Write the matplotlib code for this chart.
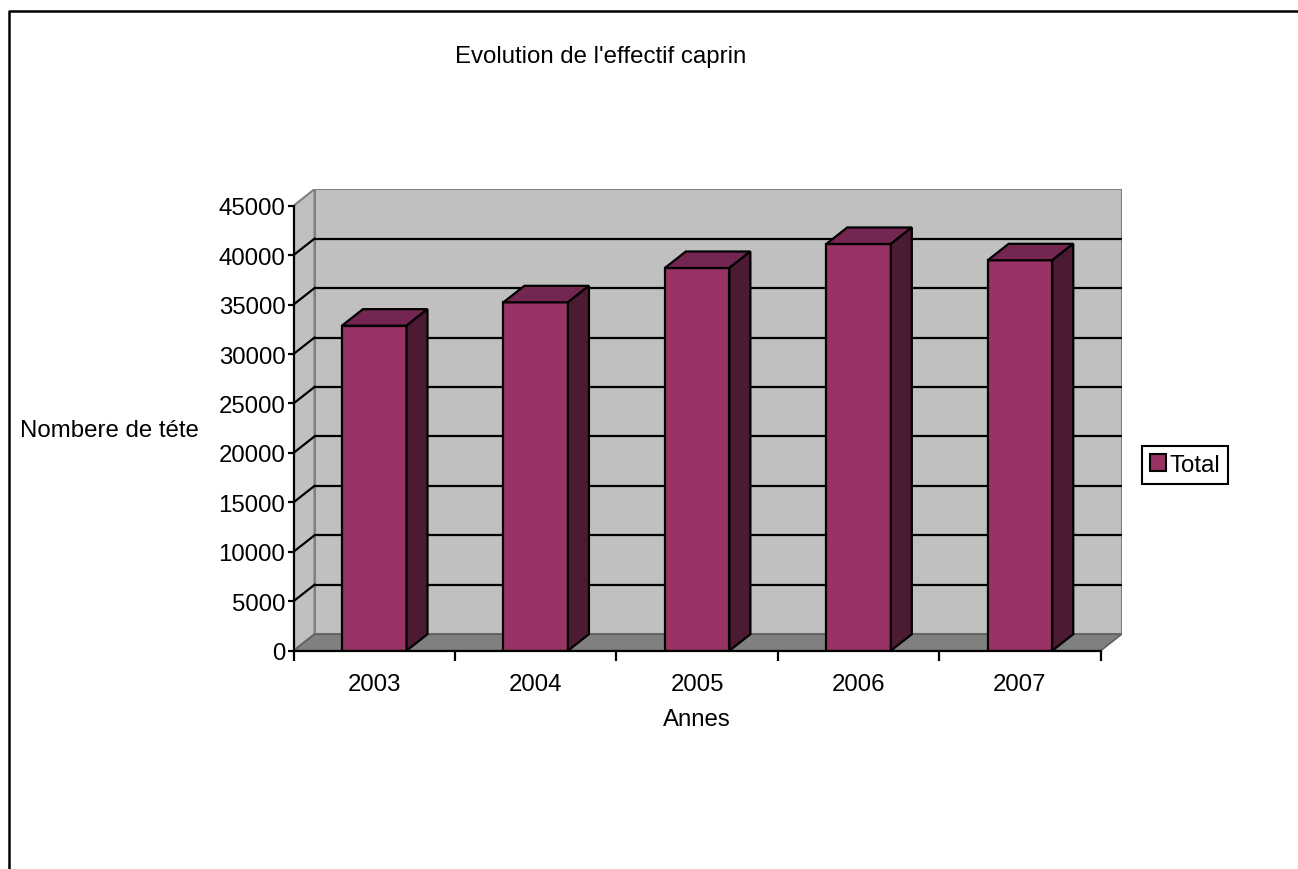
import matplotlib
matplotlib.use("Agg")
import matplotlib.pyplot as plt
from matplotlib.patches import Polygon, Patch
from matplotlib.lines import Line2D

plt.rcParams["font.family"] = ["Liberation Sans", "DejaVu Sans"]

# data
years = ["2003", "2004", "2005", "2006", "2007"]
total = [32870, 35230, 38700, 41130, 39480]
y_ticks = list(range(0, 45001, 5000))

FRONT = "#993366"
TOP = "#732650"
SIDE = "#4d1a33"
WALL = "#c0c0c0"
FLOOR = "#808080"
FS = 17.3

# layout in pixels of the 1298x870 canvas
W, H = 1298, 870
AX_L, FRONT_R, AX_B, Y_TOP_FRONT = 293.5, 1100.7, 651.7, 206.7
DEPTH_X_PX, DEPTH_Y_PX = 21.0, 16.5
YMAX = 45000

cat_px = (FRONT_R - AX_L) / len(years)
ppu = (AX_B - Y_TOP_FRONT) / YMAX
DX = DEPTH_X_PX / cat_px
DY = DEPTH_Y_PX / ppu
ax_r = AX_L + (len(years) + DX) * cat_px
ax_t = AX_B - (YMAX + DY) * ppu

fig = plt.figure(figsize=(W / 100, H / 100), dpi=100)
ax = fig.add_axes([AX_L / W, 1 - AX_B / H, (ax_r - AX_L) / W, (AX_B - ax_t) / H])
ax.set_xlim(-0.5, len(years) - 0.5 + DX)
ax.set_ylim(0, YMAX + DY)
ax.patch.set_visible(False)

x0, x1 = -0.5, len(years) - 0.5
# walls and floor
ax.add_patch(Polygon([(x0 + DX, DY), (x1 + DX, DY), (x1 + DX, YMAX + DY), (x0 + DX, YMAX + DY)],
                     closed=True, fc=WALL, ec="#808080", lw=1.5, zorder=0))
ax.add_patch(Polygon([(x0, 0), (x0 + DX, DY), (x0 + DX, YMAX + DY), (x0, YMAX)],
                     closed=True, fc=WALL, ec="#808080", lw=1.5, zorder=0))
ax.add_patch(Polygon([(x0, 0), (x1, 0), (x1 + DX, DY), (x0 + DX, DY)],
                     closed=True, fc=FLOOR, ec="#606060", lw=1.2, zorder=0.5))
for v in y_ticks[1:-1]:
    ax.plot([x0 + DX, x1 + DX], [v + DY, v + DY], color="black", lw=1.6, zorder=0.6)
    ax.plot([x0, x0 + DX], [v, v + DY], color="black", lw=1.6, zorder=0.6)

# 3d bars: front face, then top and side
xs = list(range(len(years)))
bw = 0.40
ax.bar(xs, total, width=bw, color=FRONT, edgecolor="black", lw=1.6, zorder=3)
for xi, v in zip(xs, total):
    l, r = xi - bw / 2, xi + bw / 2
    ax.add_patch(Polygon([(l, v), (r, v), (r + DX, v + DY), (l + DX, v + DY)],
                         closed=True, fc=TOP, ec="black", lw=1.6, zorder=3))
    ax.add_patch(Polygon([(r, 0), (r + DX, DY), (r + DX, v + DY), (r, v)],
                         closed=True, fc=SIDE, ec="black", lw=1.6, zorder=3))

# axes
for s in ["top", "right"]:
    ax.spines[s].set_visible(False)
ax.spines["left"].set_bounds(0, YMAX)
ax.spines["bottom"].set_bounds(x0, x1)
for s in ["left", "bottom"]:
    ax.spines[s].set_linewidth(1.6)
    ax.spines[s].set_zorder(4)
ax.set_yticks(y_ticks)
ax.set_yticklabels([str(v) for v in y_ticks])
ax.tick_params(axis="y", length=4.3, width=1.6, pad=1.5, labelsize=FS)
ax.set_xticks(xs)
ax.set_xticklabels(years)
ax.set_xticks([i - 0.5 for i in range(len(years) + 1)], minor=True)
ax.tick_params(axis="x", which="major", length=0, pad=16, labelsize=FS)
ax.tick_params(axis="x", which="minor", length=7, width=1.6)

fig.text(601 / W, 1 - 57 / H, "Evolution de l'effectif caprin", ha="center", va="center", fontsize=FS)
fig.text(20 / W, 1 - 431 / H, "Nombere de téte", ha="left", va="center", fontsize=FS)
fig.text(697 / W, 1 - 720 / H, "Annes", ha="center", va="center", fontsize=FS)

handle = Patch(facecolor=FRONT, edgecolor="black", lw=1.5)
leg = fig.legend([handle], ["Total"], loc="center left",
                 bbox_to_anchor=(1142 / W, 1 - 466 / H), bbox_transform=fig.transFigure,
                 fontsize=FS, handlelength=0.66, handleheight=0.66, handletextpad=0.15,
                 borderpad=0.32, fancybox=False, framealpha=1, borderaxespad=0)
leg.get_frame().set_edgecolor("black")
leg.get_frame().set_linewidth(1.5)

# outer frame (cut at right and bottom)
fig.add_artist(Line2D([9 / W, 9 / W, 1], [0, 1 - 11.5 / H, 1 - 11.5 / H],
                      transform=fig.transFigure, color="black", lw=1.8))

fig.savefig("out.png", dpi=100)
